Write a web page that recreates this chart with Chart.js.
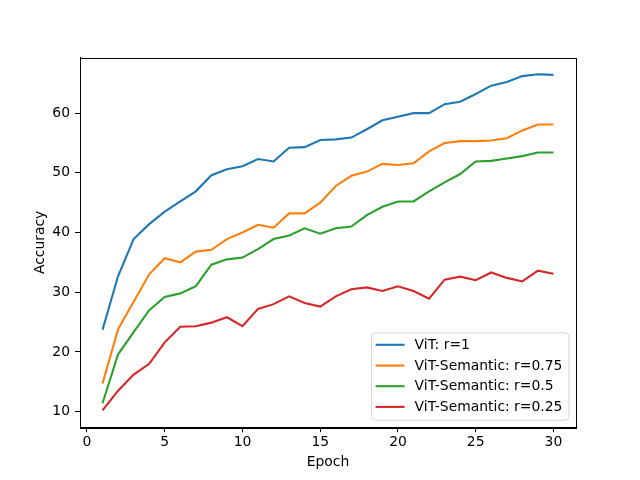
<!DOCTYPE html>
<html>
<head>
<meta charset="utf-8">
<script src="https://cdn.jsdelivr.net/npm/chart.js@4"></script>
<style>
  html, body { margin: 0; padding: 0; background: #fff; }
  #wrap { width: 640px; height: 480px; }
</style>
</head>
<body>
<div id="wrap"><canvas id="c" width="640" height="480"></canvas></div>
<script>
const epochs = [1,2,3,4,5,6,7,8,9,10,11,12,13,14,15,16,17,18,19,20,21,22,23,24,25,26,27,28,29,30];
const vit_r1 = [23.7,32.7,38.9,41.4,43.5,45.2,46.9,49.6,50.6,51.1,52.3,51.9,54.2,54.3,55.5,55.6,55.9,57.3,58.8,59.4,60.0,60.0,61.5,61.9,63.2,64.6,65.2,66.2,66.5,66.4];
const sem_r075 = [14.7,23.8,28.4,33.0,35.7,35.0,36.8,37.1,38.9,40.0,41.3,40.8,43.2,43.2,45.0,47.8,49.5,50.2,51.5,51.3,51.6,53.6,55.0,55.3,55.3,55.4,55.8,57.1,58.1,58.1];
const sem_r05 = [11.4,19.6,23.3,27.0,29.2,29.8,31.0,34.6,35.5,35.8,37.2,38.9,39.5,40.7,39.8,40.7,41.0,42.9,44.3,45.2,45.2,46.9,48.4,49.8,51.9,52.0,52.4,52.8,53.4,53.4];
const sem_r025 = [10.2,13.5,16.2,18.0,21.6,24.2,24.3,24.9,25.8,24.3,27.2,28.0,29.3,28.2,27.6,29.3,30.5,30.8,30.2,31.0,30.2,28.9,32.1,32.6,32.0,33.3,32.4,31.8,33.6,33.1];
const seriesLabels = ["ViT: r=1","ViT-Semantic: r=0.75","ViT-Semantic: r=0.5","ViT-Semantic: r=0.25"];
const seriesColors = ["#1f77b4","#ff7f0e","#2ca02c","#d62728"];
const xTicks = [0,5,10,15,20,25,30];
const yTicks = [10,20,30,40,50,60];
const xTitle = "Epoch";
const yTitle = "Accuracy";

const FONT = "DejaVu Sans";
const FS = 13.9;

const allSeries = [vit_r1, sem_r075, sem_r05, sem_r025];
const datasets = allSeries.map((s, i) => ({
  label: seriesLabels[i],
  data: epochs.map((e, j) => ({x: e, y: s[j]})),
  borderColor: seriesColors[i],
  backgroundColor: seriesColors[i],
  borderWidth: 2.1,
  pointRadius: 0,
  tension: 0,
  fill: false
}));

const framePlugin = {
  id: 'frame',
  afterDraw(chart) {
    const ctx = chart.ctx;
    const a = chart.chartArea;
    ctx.save();
    ctx.strokeStyle = '#000';
    ctx.lineWidth = 1;
    ctx.strokeRect(Math.round(a.left) + 0.5, Math.round(a.top) + 0.5, Math.round(a.right - a.left), Math.round(a.bottom - a.top));
    // axis titles
    ctx.fillStyle = '#000';
    ctx.font = FS + 'px "' + FONT + '"';
    ctx.textAlign = 'center';
    ctx.textBaseline = 'middle';
    ctx.fillText(xTitle, (a.left + a.right) / 2, 462);
    ctx.save();
    ctx.translate(40, (a.top + a.bottom) / 2);
    ctx.rotate(-Math.PI / 2);
    ctx.fillText(yTitle, 0, 0);
    ctx.restore();
    // legend
    let textW = 0;
    seriesLabels.forEach(l => { textW = Math.max(textW, ctx.measureText(l).width); });
    const right = a.right - 7;
    const bottom = a.bottom - 7;
    const rowGap = 20.7;
    const height = 87.3;
    const top = bottom - height;
    const left = right - 6.6 - textW - 39 - 4;
    const r = 4;
    ctx.beginPath();
    ctx.moveTo(left + r, top);
    ctx.lineTo(right - r, top);
    ctx.quadraticCurveTo(right, top, right, top + r);
    ctx.lineTo(right, bottom - r);
    ctx.quadraticCurveTo(right, bottom, right - r, bottom);
    ctx.lineTo(left + r, bottom);
    ctx.quadraticCurveTo(left, bottom, left, bottom - r);
    ctx.lineTo(left, top + r);
    ctx.quadraticCurveTo(left, top, left + r, top);
    ctx.closePath();
    ctx.fillStyle = 'rgba(255,255,255,0.8)';
    ctx.fill();
    ctx.strokeStyle = '#d6d6d6';
    ctx.lineWidth = 1;
    ctx.stroke();
    ctx.textAlign = 'left';
    seriesLabels.forEach((l, i) => {
      const cy = bottom - 13.3 - (seriesLabels.length - 1 - i) * rowGap;
      ctx.beginPath();
      ctx.strokeStyle = seriesColors[i];
      ctx.lineWidth = 2.1;
      ctx.moveTo(left + 4, cy);
      ctx.lineTo(left + 33, cy);
      ctx.stroke();
      ctx.fillStyle = '#000';
      ctx.fillText(l, left + 43, cy + 0.5);
    });
    ctx.restore();
  }
};

new Chart(document.getElementById('c'), {
  type: 'line',
  data: { datasets },
  options: {
    responsive: false,
    animation: false,
    devicePixelRatio: 1,
    layout: { padding: { top: 57.6, right: 64, left: 0, bottom: 0 } },
    plugins: { legend: { display: false }, tooltip: { enabled: false }, title: { display: false } },
    scales: {
      x: {
        type: 'linear',
        min: -0.45,
        max: 31.45,
        afterBuildTicks: (s) => { s.ticks = xTicks.map(v => ({ value: v })); },
        afterFit: (s) => { s.height = 480 - 427.2; },
        grid: { drawOnChartArea: false, drawTicks: true, tickLength: 5, color: '#000', tickWidth: 1 },
        border: { display: true, color: '#000', width: 1 },
        ticks: { color: '#000', font: { family: FONT, size: FS }, padding: 2, maxRotation: 0, autoSkip: false }
      },
      y: {
        type: 'linear',
        min: 7.385,
        max: 69.3,
        afterBuildTicks: (s) => { s.ticks = yTicks.map(v => ({ value: v })); },
        afterFit: (s) => { s.width = 80; },
        grid: { drawOnChartArea: false, drawTicks: true, tickLength: 5, color: '#000', tickWidth: 1 },
        border: { display: true, color: '#000', width: 1 },
        ticks: { color: '#000', font: { family: FONT, size: FS }, padding: 5, autoSkip: false }
      }
    }
  },
  plugins: [framePlugin]
});
</script>
</body>
</html>
